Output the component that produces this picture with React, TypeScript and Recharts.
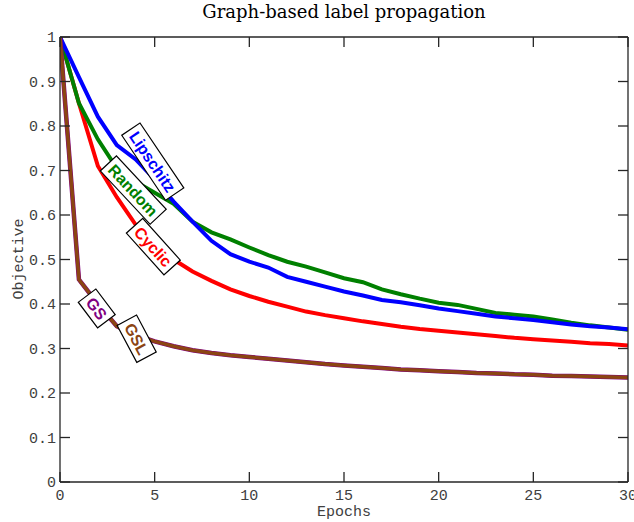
import React from "react";
import { LineChart, Line, XAxis, YAxis, ReferenceDot } from "recharts";

const epochs = [0,1,2,3,4,5,6,7,8,9,10,11,12,13,14,15,16,17,18,19,20,21,22,23,24,25,26,27,28,29,30];
const lipschitz = [1.0,0.91,0.821,0.757,0.725,0.68,0.63,0.585,0.542,0.512,0.495,0.482,0.461,0.45,0.439,0.428,0.419,0.409,0.404,0.397,0.39,0.384,0.378,0.372,0.368,0.364,0.359,0.354,0.35,0.347,0.343];
const randomOrder = [1.0,0.851,0.77,0.705,0.675,0.65,0.625,0.585,0.561,0.545,0.527,0.51,0.495,0.484,0.471,0.458,0.449,0.433,0.422,0.412,0.403,0.398,0.389,0.38,0.376,0.372,0.365,0.358,0.352,0.347,0.342];
const cyclic = [1.0,0.851,0.71,0.64,0.578,0.532,0.5,0.473,0.452,0.433,0.418,0.405,0.394,0.383,0.375,0.368,0.361,0.355,0.349,0.344,0.34,0.336,0.332,0.328,0.324,0.321,0.318,0.315,0.312,0.31,0.307];
const gs = [1.0,0.455,0.4,0.35,0.33,0.316,0.305,0.296,0.29,0.285,0.281,0.277,0.273,0.269,0.265,0.262,0.259,0.256,0.253,0.251,0.249,0.247,0.245,0.244,0.242,0.241,0.239,0.238,0.237,0.236,0.235];
const gsl = [1.0,0.455,0.4,0.35,0.33,0.316,0.305,0.296,0.29,0.285,0.281,0.277,0.273,0.269,0.265,0.262,0.259,0.256,0.253,0.251,0.249,0.247,0.245,0.244,0.242,0.241,0.239,0.238,0.237,0.236,0.235];

const xTicks = [0,5,10,15,20,25,30];
const yTicks = [0,0.1,0.2,0.3,0.4,0.5,0.6,0.7,0.8,0.9,1];
const yTickLabels = ["0","0.1","0.2","0.3","0.4","0.5","0.6","0.7","0.8","0.9","1"];

const data = epochs.map((e, i) => ({
  epoch: e,
  lipschitz: lipschitz[i],
  random: randomOrder[i],
  cyclic: cyclic[i],
  gs: gs[i],
  gsl: gsl[i],
}));

const annotations = [
  { text: "Lipschitz", x: 4.9, y: 0.72, angle: 56, color: "#0000FF" },
  { text: "Random", x: 3.87, y: 0.656, angle: 47, color: "#008000" },
  { text: "Cyclic", x: 4.93, y: 0.529, angle: 48, color: "#FF0000" },
  { text: "GS", x: 1.94, y: 0.39, angle: 53, color: "#800080" },
  { text: "GSL", x: 4.05, y: 0.322, angle: 62, color: "#8B4513" },
];

const FRAME = "#262626";
const MONO = "'Liberation Mono', 'DejaVu Sans Mono', monospace";
const LABEL_FONT = "bold 16px 'Liberation Sans', Arial, sans-serif";

function measure(text: string): number {
  try {
    const c = document.createElement("canvas").getContext("2d");
    if (c) {
      c.font = LABEL_FONT;
      return c.measureText(text).width;
    }
  } catch (e) {}
  return text.length * 9;
}

const BottomTick = (props: any) => {
  const { x, y, payload } = props;
  return (
    <g>
      <line x1={x} y1={y} x2={x} y2={y - 10} stroke={FRAME} strokeWidth={1.3} />
      <text x={x} y={y + 18} textAnchor="middle" fontFamily={MONO} fontSize={15} fill="#404040">
        {payload.value}
      </text>
    </g>
  );
};

const TopTick = (props: any) => {
  const { x, y } = props;
  return <line x1={x} y1={y} x2={x} y2={y + 10} stroke={FRAME} strokeWidth={1.3} />;
};

const LeftTick = (props: any) => {
  const { x, y, payload } = props;
  const label = yTickLabels[yTicks.indexOf(payload.value)] ?? String(payload.value);
  return (
    <g>
      <line x1={x} y1={y} x2={x + 10} y2={y} stroke={FRAME} strokeWidth={1.3} />
      <text x={x - 4} y={y + 5} textAnchor="end" fontFamily={MONO} fontSize={15} fill="#404040">
        {label}
      </text>
    </g>
  );
};

const RightTick = (props: any) => {
  const { x, y } = props;
  return <line x1={x} y1={y} x2={x - 10} y2={y} stroke={FRAME} strokeWidth={1.3} />;
};

const LabelBox = ({ cx, cy, text, angle, color }: any) => {
  if (cx == null || cy == null) return null;
  const w = measure(text) + 9;
  const h = 22;
  return (
    <g transform={`translate(${cx},${cy}) rotate(${angle})`}>
      <rect x={-w / 2} y={-h / 2} width={w} height={h} fill="#ffffff" stroke="#000000" strokeWidth={1.2} />
      <text
        x={0}
        y={6}
        textAnchor="middle"
        fontFamily="'Liberation Sans', Arial, sans-serif"
        fontWeight="bold"
        fontSize={16}
        fill={color}
      >
        {text}
      </text>
    </g>
  );
};

export default function App() {
  return (
    <div style={{ position: "absolute", left: 0, top: 0, width: 634, height: 522, background: "#fff" }}>
      <LineChart
        width={634}
        height={522}
        data={data}
        margin={{ top: 0, right: 0, bottom: 10, left: 0 }}
      >
        <XAxis
          dataKey="epoch"
          type="number"
          domain={[0, 30]}
          ticks={xTicks}
          allowDataOverflow
          height={30}
          tickSize={0}
          tickMargin={0}
          tickLine={false}
          axisLine={{ stroke: FRAME, strokeWidth: 1.3 }}
          tick={<BottomTick />}
          interval={0}
        />
        <XAxis
          xAxisId="top"
          orientation="top"
          dataKey="epoch"
          type="number"
          domain={[0, 30]}
          ticks={xTicks}
          allowDataOverflow
          height={37}
          tickSize={0}
          tickMargin={0}
          tickLine={false}
          axisLine={{ stroke: FRAME, strokeWidth: 1.3 }}
          tick={<TopTick />}
          interval={0}
        />
        <YAxis
          type="number"
          domain={[0, 1]}
          ticks={yTicks}
          allowDataOverflow
          width={60}
          tickSize={0}
          tickMargin={0}
          tickLine={false}
          axisLine={{ stroke: FRAME, strokeWidth: 1.3 }}
          tick={<LeftTick />}
          interval={0}
        />
        <YAxis
          yAxisId="right"
          orientation="right"
          type="number"
          domain={[0, 1]}
          ticks={yTicks}
          allowDataOverflow
          width={6}
          tickSize={0}
          tickMargin={0}
          tickLine={false}
          axisLine={{ stroke: FRAME, strokeWidth: 1.3 }}
          tick={<RightTick />}
          interval={0}
        />
        <Line dataKey="cyclic" stroke="#FF0000" strokeWidth={4} dot={false} activeDot={false} isAnimationActive={false} />
        <Line dataKey="random" stroke="#008000" strokeWidth={4} dot={false} activeDot={false} isAnimationActive={false} />
        <Line dataKey="lipschitz" stroke="#0000FF" strokeWidth={4} dot={false} activeDot={false} isAnimationActive={false} />
        <Line dataKey="gs" stroke="#800080" strokeWidth={4.5} dot={false} activeDot={false} isAnimationActive={false} />
        <Line dataKey="gsl" stroke="#8B4513" strokeWidth={3.5} dot={false} activeDot={false} isAnimationActive={false} />
        {annotations.map((a) => (
          <ReferenceDot
            key={a.text}
            x={a.x}
            y={a.y}
            r={0}
            shape={(p: any) => <LabelBox cx={p.cx} cy={p.cy} text={a.text} angle={a.angle} color={a.color} />}
          />
        ))}
      </LineChart>
      <svg
        width={634}
        height={522}
        style={{ position: "absolute", left: 0, top: 0, pointerEvents: "none" }}
      >
        <text x={344} y={18} textAnchor="middle" fontFamily="'DejaVu Serif', serif" fontSize={18} fill="#000">
          Graph-based label propagation
        </text>
        <text x={344} y={516} textAnchor="middle" fontFamily={MONO} fontSize={15} fill="#404040">
          Epochs
        </text>
        <text
          x={0}
          y={0}
          transform="translate(23,259) rotate(-90)"
          textAnchor="middle"
          fontFamily={MONO}
          fontSize={15}
          fill="#404040"
        >
          Objective
        </text>
      </svg>
    </div>
  );
}
